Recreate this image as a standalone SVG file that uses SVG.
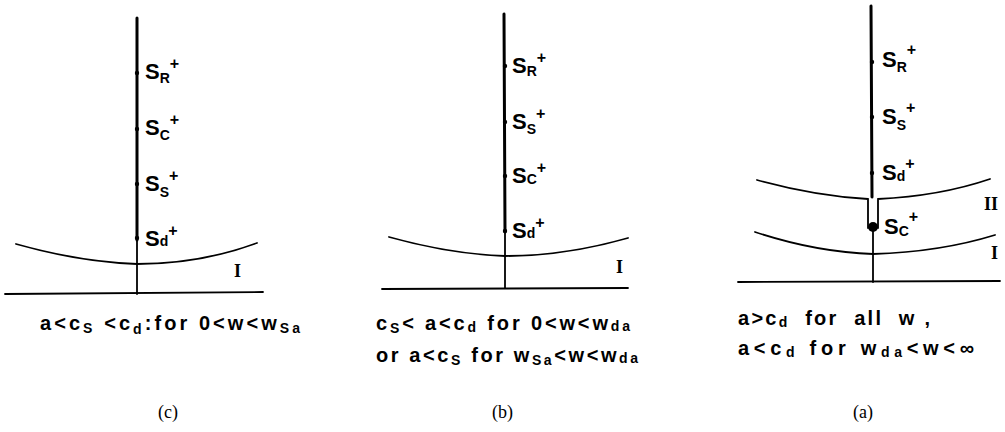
<svg xmlns="http://www.w3.org/2000/svg" width="1005" height="432" viewBox="0 0 1005 432">
<style>
.ln{fill:none;stroke:#000;stroke-width:1.8;stroke-linecap:round}
.ax{fill:none;stroke:#000;stroke-width:3;stroke-linecap:round}
.lb{font-family:"Liberation Sans",Arial,sans-serif;font-size:22px;font-weight:bold;fill:#000}
.cap{font-family:"Liberation Sans",Arial,sans-serif;font-size:20px;font-weight:bold;fill:#000}
.sub{font-size:14px}
.sup{font-size:16px}
.rn{font-family:"Liberation Serif","Times New Roman",serif;font-size:18px;font-weight:bold;fill:#000}
.par{font-family:"Liberation Serif","Times New Roman",serif;font-size:18px;fill:#000}
</style>
<rect width="1005" height="432" fill="#fff"/>
<g id="connectors">
<line class="ln" x1="5" y1="294" x2="263" y2="292"/>
<line class="ax" x1="137" y1="18" x2="137" y2="240"/>
<line class="ln" x1="137" y1="240" x2="137" y2="294"/>
<path class="ln" d="M16,244 Q80,262 137,264 Q200,264 257,243"/>
<line class="ln" x1="382" y1="289" x2="628" y2="288"/>
<line class="ax" x1="504" y1="14" x2="505" y2="232"/>
<line class="ln" x1="505" y1="232" x2="505" y2="288"/>
<path class="ln" d="M389,237 Q450,254 505,256 Q565,256 628,238"/>
<line class="ln" x1="738" y1="282" x2="1000" y2="281"/>
<line class="ax" x1="871" y1="6" x2="872" y2="197"/>
<line class="ln" x1="873" y1="230" x2="873" y2="282"/>
<path class="ln" d="M757,180 Q815,196 868,199 L868,228 M878,228 L878,199 Q940,196 990,179"/>
<circle cx="873" cy="227" r="5" fill="#000"/>
<path class="ln" d="M755,232 Q815,252 873,254 Q940,252 995,235"/>
</g>
<g id="panel-c">
<circle cx="137" cy="73" r="2.2"/><circle cx="137" cy="129" r="2.2"/><circle cx="137" cy="184" r="2.2"/><circle cx="137" cy="238" r="2.2"/>
<text class="lb" x="145" y="79">S<tspan class="sub" dy="4">R</tspan><tspan class="sup" dy="-14">+</tspan></text>
<text class="lb" x="145" y="135">S<tspan class="sub" dy="5">C</tspan><tspan class="sup" dy="-15">+</tspan></text>
<text class="lb" x="145" y="191">S<tspan class="sub" dy="6">S</tspan><tspan class="sup" dy="-16">+</tspan></text>
<text class="lb" x="145" y="246">S<tspan class="sub" dy="0">d</tspan><tspan class="sup" dy="-10">+</tspan></text>
<text class="rn" x="234" y="277">I</text>
<text class="cap" x="40" y="330" textLength="260" lengthAdjust="spacing">a&lt;c<tspan class="sub" dy="3">S</tspan><tspan dy="-3"> &lt;c</tspan><tspan class="sub" dy="4">d</tspan><tspan dy="-4">:for 0&lt;w&lt;w</tspan><tspan class="sub" dy="3">Sa</tspan></text>
<text class="par" x="158" y="418">(c)</text>
</g>
<g id="panel-b">
<circle cx="505" cy="66" r="2.2"/><circle cx="505" cy="122" r="2.2"/><circle cx="505" cy="176" r="2.2"/><circle cx="505" cy="231" r="2.2"/>
<text class="lb" x="512" y="73">S<tspan class="sub" dy="3">R</tspan><tspan class="sup" dy="-13">+</tspan></text>
<text class="lb" x="512" y="129">S<tspan class="sub" dy="5">S</tspan><tspan class="sup" dy="-15">+</tspan></text>
<text class="lb" x="512" y="183">S<tspan class="sub" dy="1">C</tspan><tspan class="sup" dy="-11">+</tspan></text>
<text class="lb" x="512" y="238">S<tspan class="sub" dy="0">d</tspan><tspan class="sup" dy="-10">+</tspan></text>
<text class="rn" x="616" y="273">I</text>
<text class="cap" x="376" y="330" textLength="254" lengthAdjust="spacing">c<tspan class="sub" dy="3">S</tspan><tspan dy="-3">&lt; a&lt;c</tspan><tspan class="sub" dy="2">d</tspan><tspan dy="-2"> for 0&lt;w&lt;w</tspan><tspan class="sub" dy="1">da</tspan></text>
<text class="cap" x="376" y="362" textLength="262" lengthAdjust="spacing">or a&lt;c<tspan class="sub" dy="3">S</tspan><tspan dy="-3"> for w</tspan><tspan class="sub" dy="3">Sa</tspan><tspan dy="-3">&lt;w&lt;w</tspan><tspan class="sub" dy="1">da</tspan></text>
<text class="par" x="492" y="418">(b)</text>
</g>
<g id="panel-a">
<circle cx="872" cy="62" r="2.2"/><circle cx="872" cy="117" r="2.2"/><circle cx="872" cy="173" r="2.2"/>
<text class="lb" x="882" y="67">S<tspan class="sub" dy="5">R</tspan><tspan class="sup" dy="-17">+</tspan></text>
<text class="lb" x="882" y="124">S<tspan class="sub" dy="6">S</tspan><tspan class="sup" dy="-17">+</tspan></text>
<text class="lb" x="882" y="180">S<tspan class="sub" dy="1">d</tspan><tspan class="sup" dy="-12">+</tspan></text>
<text class="lb" x="884" y="234">S<tspan class="sub" dy="2">C</tspan><tspan class="sup" dy="-14">+</tspan></text>
<text class="rn" x="984" y="210">II</text>
<text class="rn" x="991" y="259">I</text>
<text class="cap" x="738" y="325" textLength="192" lengthAdjust="spacing">a&gt;c<tspan class="sub" dy="2">d</tspan><tspan dy="-2" xml:space="preserve">  for  all  w ,</tspan></text>
<text class="cap" x="738" y="355" textLength="236" lengthAdjust="spacing">a&lt;c<tspan class="sub" dy="2">d</tspan><tspan dy="-2"> for w</tspan><tspan class="sub" dy="2">da</tspan><tspan dy="-2">&lt;w&lt;∞</tspan></text>
<text class="par" x="853" y="418">(a)</text>
</g>
</svg>
